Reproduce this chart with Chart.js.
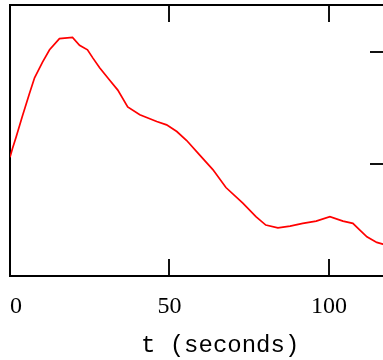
<!DOCTYPE html>
<html>
<head>
<meta charset="utf-8">
<script src="https://cdn.jsdelivr.net/npm/chart.js@4.4.1/dist/chart.umd.min.js"></script>
<style>
  html, body { margin: 0; padding: 0; background: #fff; overflow: hidden; }
  #wrap { position: relative; width: 395px; height: 360px; }
</style>
</head>
<body>
<div id="wrap"><canvas id="plot"></canvas></div>
<script>
// time samples (seconds) and the signal
const tValues = [0, 0.8, 1.9, 3.8, 6.1, 7.7, 10.2, 12.4, 15.5, 19.6, 21.8, 24.3, 25.9, 28.1,
    31.2, 33.8, 36.9, 40.7, 46.0, 49.1, 52.3, 55.4, 59.5, 63.6, 67.7, 73.0, 77.1, 80.2,
    84.0, 87.8, 91.8, 96.0, 100.3, 104.4, 107.5, 109.7, 111.9, 115.0, 116.9, 118.5];
const yValues = [1.06, 1.14, 1.24, 1.42, 1.63, 1.77, 1.91, 2.02, 2.12, 2.13, 2.06, 2.02, 1.95, 1.86,
    1.75, 1.66, 1.51, 1.44, 1.38, 1.35, 1.29, 1.21, 1.08, 0.95, 0.79, 0.65, 0.53, 0.455,
    0.43, 0.446, 0.47, 0.49, 0.53, 0.49, 0.47, 0.41, 0.35, 0.30, 0.285, 0.27];

const xTicks = [0, 50, 100];
const xTitle = '   t (seconds)';

const xMin = 0, xMax = 118.2;
const yMin = 0, yMax = 2.42;

const points = tValues.map((t, i) => ({ x: t, y: yValues[i] }));

const inwardGrid = { drawOnChartArea: false, drawTicks: true, tickLength: -17, color: '#111', lineWidth: 2 };
const frame = { display: true, color: '#000', width: 2 };

new Chart(document.getElementById('plot'), {
    type: 'line',
    data: {
        datasets: [{
            data: points,
            borderColor: '#ff0000',
            borderWidth: 1.7,
            pointRadius: 0,
            tension: 0,
            fill: false
        }]
    },
    options: {
        responsive: true,
        maintainAspectRatio: false,
        animation: false,
        layout: { padding: { top: 5, left: 10, right: 8, bottom: 0 } },
        plugins: { legend: { display: false }, tooltip: { enabled: false } },
        scales: {
            x: {
                type: 'linear', position: 'bottom', min: xMin, max: xMax,
                // blank end tick so 'inner' only pushes the 0 label inwards
                afterBuildTicks: s => { s.ticks = xTicks.concat([xMax]).map(v => ({ value: v })); },
                // big label padding is only meant vertically
                afterFit: s => { s.height = 84; s.paddingLeft = 0; s.paddingRight = 0; },
                grid: inwardGrid,
                border: frame,
                ticks: {
                    color: '#000', padding: 33, maxRotation: 0, autoSkip: false, align: 'inner',
                    font: { family: 'Liberation Serif', size: 24 },
                    callback: v => xTicks.includes(v) ? String(v) : ''
                },
                title: {
                    display: true, text: xTitle, color: '#000',
                    padding: { top: 0, bottom: 0 },
                    font: { family: 'Liberation Mono', size: 24 }
                }
            },
            xTop: {
                type: 'linear', position: 'top', min: xMin, max: xMax,
                afterBuildTicks: s => { s.ticks = xTicks.map(v => ({ value: v })); },
                afterFit: s => { s.height = 0; s.paddingLeft = 0; s.paddingRight = 0; },
                grid: inwardGrid,
                border: frame,
                ticks: { display: false }
            },
            y: {
                type: 'linear', position: 'right', min: yMin, max: yMax,
                afterFit: s => { s.width = 0; },
                grid: inwardGrid,
                border: frame,
                ticks: { display: false, stepSize: 1, includeBounds: false }
            },
            yLeft: {
                type: 'linear', position: 'left', min: yMin, max: yMax,
                afterFit: s => { s.width = 0; },
                grid: { drawOnChartArea: false, drawTicks: false },
                border: frame,
                ticks: { display: false }
            }
        }
    }
});
</script>
</body>
</html>
